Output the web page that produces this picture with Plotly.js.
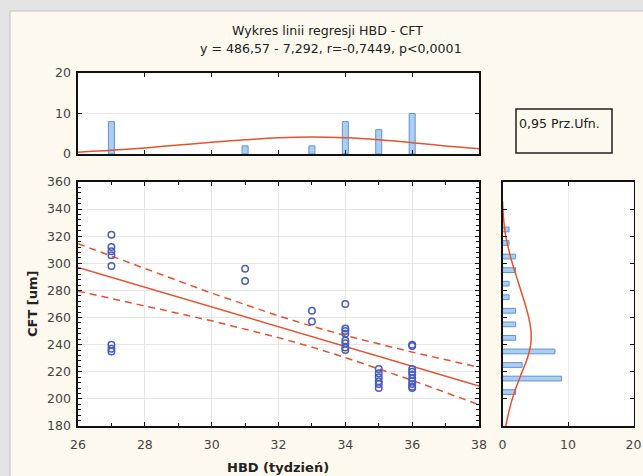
<!DOCTYPE html>
<html>
<head>
<meta charset="utf-8">
<script src="https://cdn.plot.ly/plotly-3.0.1.min.js"></script>
<style>
html,body{margin:0;padding:0;background:#fdf9ee;}
#chart{width:643px;height:476px;}
</style>
</head>
<body>
<div id="chart"></div>
<script>
// Scatter data: HBD (weeks) vs CFT [um]
const hbd = [27,27,27,27,27,27,27,27, 31,31, 33,33, 34,34,34,34,34,34,34,34, 35,35,35,35,35,35, 36,36,36,36,36,36,36,36,36,36];
const cft = [321,312,309,306,298,240,237,235, 296,287, 265,257, 270,252,250,248,243,241,238,236, 222,219,216,213,211,208, 240,239,222,220,218,215,213,211,209,208];

// Regression line and 0.95 confidence band
const regX     = [26, 28, 30, 32, 33, 34, 36, 38];
const regY     = [297.0, 282.4, 267.8, 253.2, 245.9, 238.6, 224.1, 209.5];
const regUpper = [314.5, 296.0, 278.0, 261.2, 253.6, 246.7, 234.5, 223.3];
const regLower = [279.5, 268.8, 257.6, 245.2, 238.2, 230.5, 213.7, 195.7];

// Top histogram (HBD)
const hbdBins   = [27, 31, 33, 34, 35, 36];
const hbdCounts = [8, 2, 2, 8, 6, 10];
const hbdCurveX = [26, 27, 28, 29, 30, 31, 32, 33, 34, 35, 36, 37, 38];
const hbdCurveY = [0.45, 0.9, 1.5, 2.2, 2.9, 3.5, 4.0, 4.2, 4.0, 3.5, 2.8, 2.0, 1.3];

// Right histogram (CFT)
const cftBins   = [205, 215, 225, 235, 245, 255, 265, 275, 285, 295, 305, 315, 325];
const cftCounts = [2, 9, 3, 8, 2, 2, 2, 1, 1, 2, 2, 1, 1];
const cftCurveY = [180, 190, 200, 210, 220, 230, 240, 250, 260, 270, 280, 290, 300, 310, 320, 330, 340, 346];
const cftCurveX = [0.5, 0.95, 1.5, 2.2, 3.0, 3.8, 4.3, 4.35, 4.0, 3.45, 2.8, 2.15, 1.5, 0.95, 0.5, 0.22, 0.07, 0];

// Text
const title1 = 'Wykres linii regresji HBD - CFT';
const title2 = 'y = 486,57 - 7,292, r=-0,7449, p<0,0001';
const xTitle = 'HBD (tydzień)';
const yTitle = 'CFT [um]';
const legendText = '0,95 Prz.Ufn.';

const W = 643, H = 476;
const px = v => v / W;
const py = v => (H - v) / H;

const red = '#e8502e';
const blue = '#4a5cc2';
const barFill = 'rgba(168,204,240,0.95)';
const barLine = '#5f93d6';
const tickFont = {family: 'DejaVu Sans, Arial, sans-serif', size: 12.5, color: '#444'};
const textFont = {family: 'DejaVu Sans, Arial, sans-serif', size: 12.6, color: '#222'};

const traces = [
  {x: regX, y: regUpper, type: 'scatter', mode: 'lines', line: {color: red, width: 1.5, dash: '7px,5px'}, xaxis: 'x', yaxis: 'y', hoverinfo: 'skip'},
  {x: regX, y: regLower, type: 'scatter', mode: 'lines', line: {color: red, width: 1.5, dash: '7px,5px'}, xaxis: 'x', yaxis: 'y', hoverinfo: 'skip'},
  {x: regX, y: regY, type: 'scatter', mode: 'lines', line: {color: red, width: 1.5}, xaxis: 'x', yaxis: 'y'},
  {x: hbd, y: cft, type: 'scatter', mode: 'markers', marker: {symbol: 'circle-open', size: 6.5, color: blue, line: {width: 1.5, color: blue}}, xaxis: 'x', yaxis: 'y'},
  {x: hbdBins, y: hbdCounts, type: 'bar', width: 0.18, marker: {color: barFill, line: {color: barLine, width: 1}}, xaxis: 'x2', yaxis: 'y2'},
  {x: hbdCurveX, y: hbdCurveY, type: 'scatter', mode: 'lines', line: {color: red, width: 1.5, shape: 'spline'}, xaxis: 'x2', yaxis: 'y2'},
  {x: cftCounts, y: cftBins, type: 'bar', orientation: 'h', width: 3.5, marker: {color: barFill, line: {color: barLine, width: 1}}, xaxis: 'x3', yaxis: 'y3'},
  {x: cftCurveX, y: cftCurveY, type: 'scatter', mode: 'lines', line: {color: red, width: 1.5, shape: 'spline'}, xaxis: 'x3', yaxis: 'y3'}
];

const frame = {showline: true, linecolor: '#111', linewidth: 1.6, mirror: 'ticks', zeroline: false, ticks: 'inside', ticklen: 4, tickcolor: '#111', tickfont: tickFont, fixedrange: true};

const layout = {
  width: W, height: H,
  margin: {l: 0, r: 0, t: 0, b: 0},
  paper_bgcolor: '#fdf9ee',
  plot_bgcolor: '#ffffff',
  showlegend: false,
  bargap: 0,
  xaxis: Object.assign({}, frame, {domain: [px(78), px(479)], range: [26, 38], anchor: 'y', tick0: 26, dtick: 2, ticklabelstandoff: 6, showgrid: true, gridcolor: '#e6e6e6', minor: {dtick: 1, ticks: 'inside', ticklen: 3, tickcolor: '#111', showgrid: false}}),
  yaxis: Object.assign({}, frame, {domain: [py(426), py(182)], range: [180, 360], anchor: 'x', tick0: 180, dtick: 20, ticklabelstandoff: 3, showgrid: true, gridcolor: '#e6e6e6', minor: {dtick: 4, ticks: 'inside', ticklen: 3, tickcolor: '#111', showgrid: false}}),
  xaxis2: Object.assign({}, frame, {domain: [px(78), px(479)], range: [26, 38], anchor: 'y2', tick0: 26, dtick: 2, showticklabels: false, showgrid: false}),
  yaxis2: Object.assign({}, frame, {domain: [py(154), py(73)], range: [0, 20], anchor: 'x2', tick0: 0, dtick: 10, ticklabelstandoff: 3, showgrid: true, gridcolor: '#ececec'}),
  xaxis3: Object.assign({}, frame, {domain: [px(502.5), px(633.5)], range: [0, 20], anchor: 'y3', tick0: 0, dtick: 10, ticklabelstandoff: 6, showgrid: true, gridcolor: '#ececec'}),
  yaxis3: Object.assign({}, frame, {domain: [py(426), py(182)], range: [180, 360], anchor: 'x3', tick0: 180, dtick: 20, showticklabels: false, showgrid: false}),
  shapes: [
    {type: 'rect', xref: 'paper', yref: 'paper', x0: 0, x1: 1, y0: py(11), y1: 1, fillcolor: '#e4e4e4', line: {width: 0}},
    {type: 'rect', xref: 'paper', yref: 'paper', x0: 0, x1: px(10), y0: 0, y1: 1, fillcolor: '#e4e4e4', line: {width: 0}},
    {type: 'line', xref: 'paper', yref: 'paper', x0: px(10), x1: 1, y0: py(11), y1: py(11), line: {color: '#cfcfcf', width: 1.5}},
    {type: 'line', xref: 'paper', yref: 'paper', x0: px(10), x1: px(10), y0: 0, y1: py(11), line: {color: '#cfcfcf', width: 1.5}},
    {type: 'rect', xref: 'paper', yref: 'paper', x0: px(516), x1: px(612), y0: py(153), y1: py(109), line: {color: '#222', width: 1.5}, fillcolor: 'rgba(0,0,0,0)'}
  ],
  annotations: [
    {text: title1, xref: 'paper', yref: 'paper', x: px(327), y: py(30), showarrow: false, xanchor: 'center', yanchor: 'middle', font: textFont},
    {text: title2, xref: 'paper', yref: 'paper', x: px(331), y: py(49), showarrow: false, xanchor: 'center', yanchor: 'middle', font: textFont},
    {text: legendText, xref: 'paper', yref: 'paper', x: px(517), y: py(124), showarrow: false, xanchor: 'left', yanchor: 'middle', font: textFont},
    {text: '<b>' + xTitle + '</b>', xref: 'paper', yref: 'paper', x: px(278), y: py(467), showarrow: false, xanchor: 'center', yanchor: 'middle', font: {family: 'DejaVu Sans, Arial, sans-serif', size: 13, color: '#222'}},
    {text: '<b>' + yTitle + '</b>', xref: 'paper', yref: 'paper', x: px(32), y: py(304), showarrow: false, textangle: -90, xanchor: 'center', yanchor: 'middle', font: {family: 'DejaVu Sans, Arial, sans-serif', size: 13, color: '#222'}}
  ]
};

Plotly.newPlot('chart', traces, layout, {displayModeBar: false, staticPlot: true});
</script>
</body>
</html>
